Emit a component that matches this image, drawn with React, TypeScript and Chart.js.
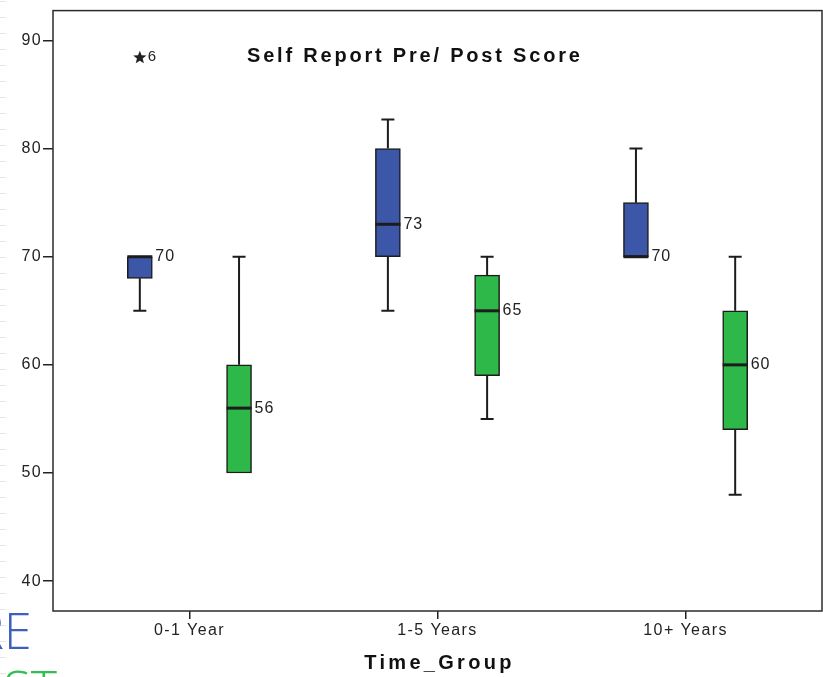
import React, { useEffect, useRef } from "react";
import { Chart, registerables } from "chart.js";

Chart.register(...registerables);

// ---------- data ----------
const categories = ["0-1 Year", "1-5 Years", "10+ Years"];
const yTicks = [40, 50, 60, 70, 80, 90];

// Pre score (blue boxes)
const preMin = [65, 65, 70];
const preQ1 = [68, 70, 70];
const preMedian = [70, 73, 70];
const preQ3 = [70, 80, 75];
const preMax = [70, 82.7, 80];

// Post score (green boxes)
const postMin = [50, 55, 48];
const postQ1 = [50, 59, 54];
const postMedian = [56, 65, 60];
const postQ3 = [60, 68.3, 65];
const postMax = [70, 70, 70];

// extreme outliers (pre series)
const outlierCategory = [0];
const outlierValue = [88.5];
const outlierLabel = ["6"];

const chartTitle = "Self Report Pre/ Post Score";
const xTitle = "Time_Group";

// ---------- styles ----------
const BLUE = "#3c56a8";
const GREEN = "#2eb84a";
const INK = "#1c1c1c";
const FONT = "'Liberation Sans', Arial, sans-serif";
const PRE_OFF = -0.2;
const POST_OFF = 0.2;
const BOX_W = 25;

const extrasPlugin = {
  id: "boxExtras",
  beforeDraw(chart: any) {
    chart.ctx.letterSpacing = "1.4px";
  },
  beforeDatasetsDraw(chart: any) {
    const { ctx, chartArea: a } = chart;
    ctx.save();
    ctx.strokeStyle = "#2b2b2b";
    ctx.lineWidth = 1.5;
    ctx.strokeRect(a.left, a.top, a.right - a.left, a.bottom - a.top);
    ctx.restore();
  },
  afterDatasetsDraw(chart: any) {
    const { ctx } = chart;
    const x = chart.scales.x;
    const y = chart.scales.y;
    const groups = [
      { off: PRE_OFF, min: preMin, q1: preQ1, med: preMedian, q3: preQ3, max: preMax },
      { off: POST_OFF, min: postMin, q1: postQ1, med: postMedian, q3: postQ3, max: postMax },
    ];
    ctx.save();
    ctx.strokeStyle = INK;
    ctx.fillStyle = INK;
    groups.forEach((g) => {
      categories.forEach((_, i) => {
        const cx = x.getPixelForValue(i + g.off);
        const yq1 = y.getPixelForValue(g.q1[i]);
        const yq3 = y.getPixelForValue(g.q3[i]);
        const ymin = y.getPixelForValue(g.min[i]);
        const ymax = y.getPixelForValue(g.max[i]);
        const ymed = y.getPixelForValue(g.med[i]);
        ctx.lineWidth = 2;
        if (g.max[i] > g.q3[i]) {
          ctx.beginPath();
          ctx.moveTo(cx, yq3);
          ctx.lineTo(cx, ymax);
          ctx.moveTo(cx - 6.5, ymax);
          ctx.lineTo(cx + 6.5, ymax);
          ctx.stroke();
        }
        if (g.min[i] < g.q1[i]) {
          ctx.beginPath();
          ctx.moveTo(cx, yq1);
          ctx.lineTo(cx, ymin);
          ctx.moveTo(cx - 6.5, ymin);
          ctx.lineTo(cx + 6.5, ymin);
          ctx.stroke();
        }
        ctx.lineWidth = 3;
        ctx.beginPath();
        ctx.moveTo(cx - BOX_W / 2, ymed);
        ctx.lineTo(cx + BOX_W / 2, ymed);
        ctx.stroke();
        ctx.letterSpacing = "1px";
        ctx.font = `16px ${FONT}`;
        ctx.textAlign = "left";
        ctx.textBaseline = "middle";
        ctx.fillStyle = "#222";
        ctx.fillText(String(g.med[i]), cx + BOX_W / 2 + 3, ymed);
        ctx.fillStyle = INK;
      });
    });
    // outliers (stars)
    outlierCategory.forEach((c, k) => {
      const cx = x.getPixelForValue(c + PRE_OFF);
      const cy = y.getPixelForValue(outlierValue[k]);
      ctx.beginPath();
      for (let p = 0; p < 10; p++) {
        const r = p % 2 === 0 ? 7 : 3;
        const ang = -Math.PI / 2 + (p * Math.PI) / 5;
        const px = cx + r * Math.cos(ang);
        const py = cy + 1 + r * Math.sin(ang);
        if (p === 0) ctx.moveTo(px, py);
        else ctx.lineTo(px, py);
      }
      ctx.closePath();
      ctx.fillStyle = "#222";
      ctx.fill();
      ctx.letterSpacing = "1px";
      ctx.font = `15px ${FONT}`;
      ctx.textAlign = "left";
      ctx.textBaseline = "middle";
      ctx.fillText(outlierLabel[k], cx + 8, cy);
    });
    ctx.restore();
  },
  afterDraw(chart: any) {
    const { ctx, chartArea: a } = chart;
    ctx.save();
    ctx.fillStyle = "#111";
    ctx.textBaseline = "middle";
    ctx.font = `bold 20px ${FONT}`;
    ctx.letterSpacing = "2.8px";
    ctx.textAlign = "left";
    ctx.fillText(chartTitle, a.left + 194, a.top + 46);
    ctx.font = `bold 20px ${FONT}`;
    ctx.letterSpacing = "3.3px";
    ctx.textAlign = "center";
    ctx.fillText(xTitle, (a.left + a.right) / 2 + 2, a.bottom + 52);
    ctx.restore();
  },
};

export default function App() {
  const ref = useRef<HTMLCanvasElement | null>(null);

  useEffect(() => {
    if (!ref.current) return;
    const tickFont = { family: FONT, size: 16 };
    const chart = new Chart(ref.current, {
      type: "bar",
      data: {
        datasets: [
          {
            label: "Pre",
            data: categories.map((_, i) => ({ x: i + PRE_OFF, y: [preQ1[i], preQ3[i]] })) as any,
            backgroundColor: BLUE,
            borderColor: INK,
            borderWidth: 1.5,
            borderSkipped: false,
            barThickness: BOX_W,
            grouped: false,
          },
          {
            label: "Post",
            data: categories.map((_, i) => ({ x: i + POST_OFF, y: [postQ1[i], postQ3[i]] })) as any,
            backgroundColor: GREEN,
            borderColor: INK,
            borderWidth: 1.5,
            borderSkipped: false,
            barThickness: BOX_W,
            grouped: false,
          },
        ],
      },
      options: {
        animation: false,
        responsive: false,
        maintainAspectRatio: false,
        events: [],
        layout: { padding: { top: 7, right: 1, left: 0, bottom: 0 } },
        plugins: {
          legend: { display: false },
          tooltip: { enabled: false },
          title: { display: false },
        },
        scales: {
          x: {
            type: "linear",
            offset: false,
            min: -0.55,
            max: 2.55,
            afterFit: (s: any) => {
              s.height = 66;
            },
            afterBuildTicks: (s: any) => {
              s.ticks = categories.map((_, i) => ({ value: i }));
            },
            ticks: {
              callback: (v: any) => categories[v] ?? "",
              font: tickFont,
              color: "#222",
              padding: 2,
              maxRotation: 0,
              autoSkip: false,
            },
            grid: {
              drawOnChartArea: false,
              offset: false,
              tickLength: 8,
              color: "#222",
              lineWidth: 1.5,
            },
            border: { display: false },
          },
          y: {
            min: 37.24,
            max: 92.76,
            afterFit: (s: any) => {
              s.width = 53;
            },
            afterBuildTicks: (s: any) => {
              s.ticks = yTicks.map((v) => ({ value: v }));
            },
            ticks: { font: tickFont, color: "#222", padding: 1 },
            grid: { drawOnChartArea: false, tickLength: 10, color: "#222", lineWidth: 1.5 },
            border: { display: false },
          },
        },
      } as any,
      plugins: [extrasPlugin],
    });
    return () => chart.destroy();
  }, []);

  return (
    <div
      style={{
        position: "fixed",
        left: 0,
        top: 0,
        width: 823,
        height: 677,
        overflow: "hidden",
        background: "#fff",
      }}
    >
      <div
        style={{
          position: "absolute",
          left: 0,
          top: 1,
          width: 6,
          height: 676,
          backgroundImage:
            "repeating-linear-gradient(to bottom, #e6e6e6 0px, #e6e6e6 1px, transparent 1px, transparent 16px)",
        }}
      />
      <div
        style={{
          position: "absolute",
          left: -55,
          top: 605,
          fontFamily: "'Open Sans', sans-serif",
          fontWeight: 300,
          fontSize: 50,
          lineHeight: 1,
          color: "#3f5fbf",
          whiteSpace: "nowrap",
        }}
      >
        PRE
      </div>
      <div
        style={{
          position: "absolute",
          left: -64,
          top: 663,
          fontFamily: "'Open Sans', sans-serif",
          fontWeight: 300,
          fontSize: 50,
          lineHeight: 1,
          color: "#33bf4f",
          whiteSpace: "nowrap",
        }}
      >
        POST
      </div>
      <canvas
        ref={ref}
        width={823}
        height={677}
        style={{ position: "absolute", left: 0, top: 0, width: 823, height: 677 }}
      />
    </div>
  );
}
